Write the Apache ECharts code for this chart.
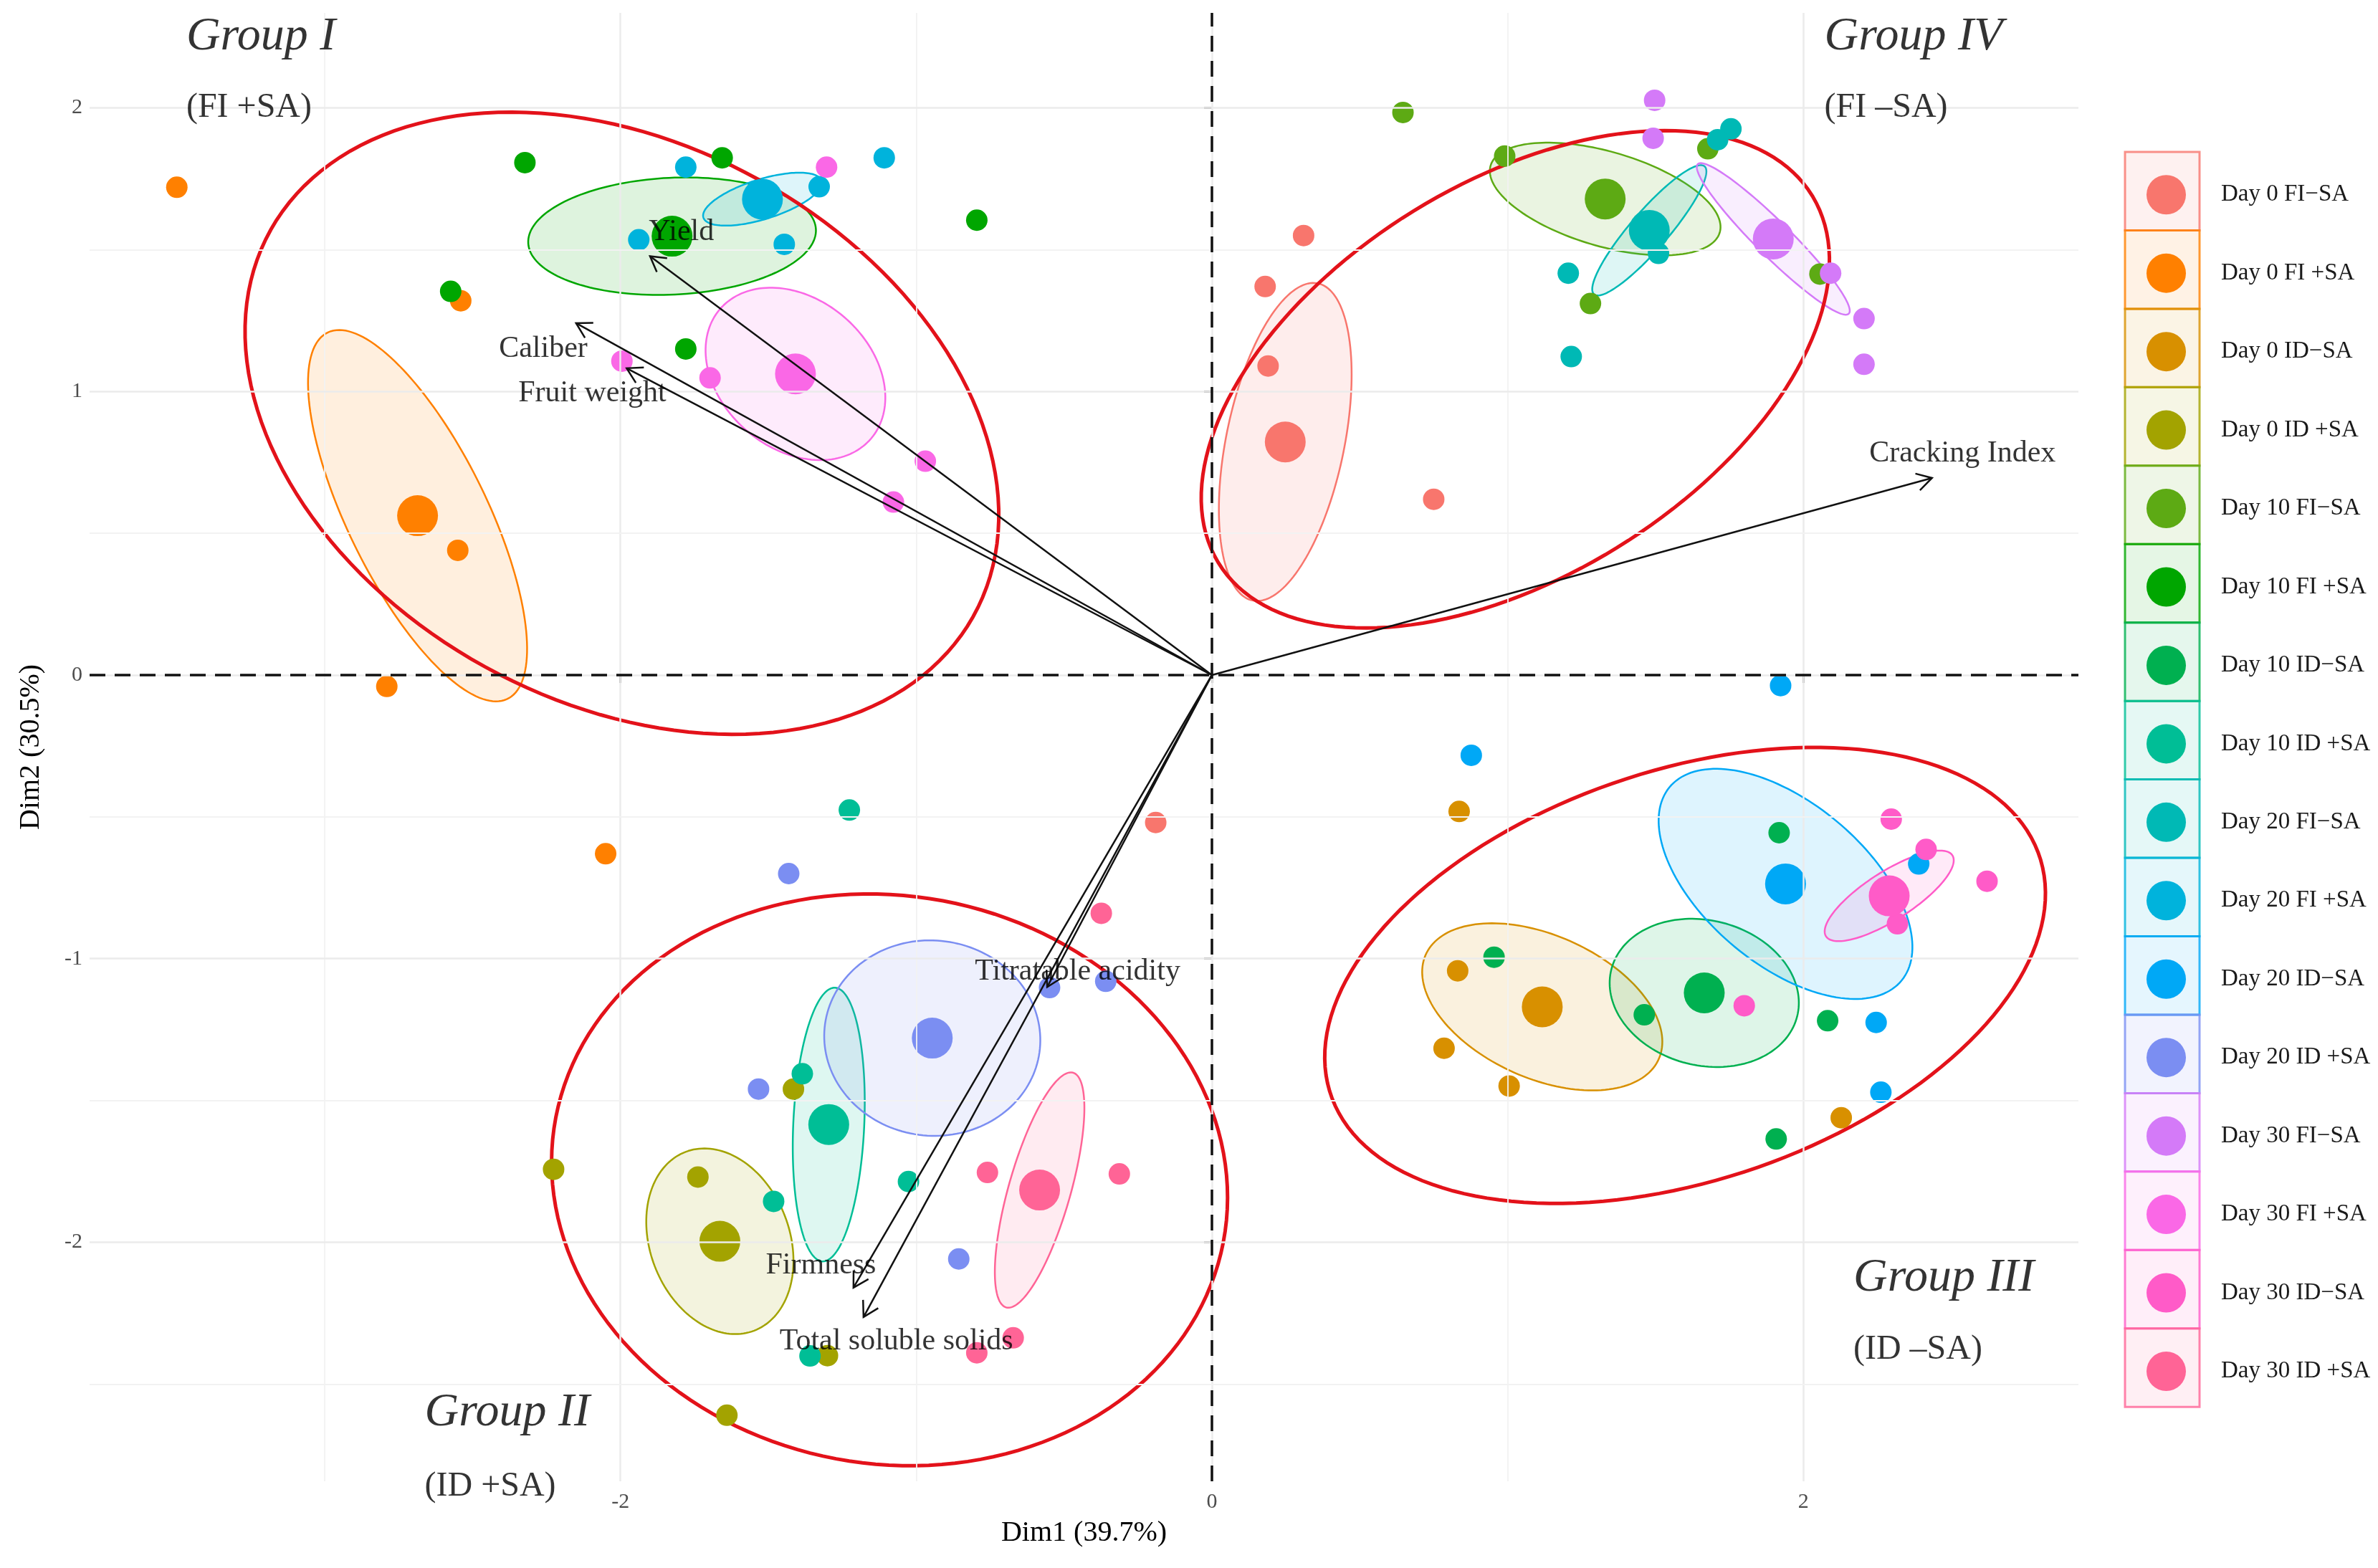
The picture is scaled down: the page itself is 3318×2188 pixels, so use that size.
<!DOCTYPE html>
<html>
<head>
<meta charset="utf-8">
<script src="https://cdn.jsdelivr.net/npm/echarts@6/dist/echarts.min.js"></script>
<style>
html,body{margin:0;padding:0;background:#fff;}
#chart{width:3318px;height:2188px;}
</style>
</head>
<body>
<div id="chart"></div>
<script>
// ---------- data ----------
const groupNames = ['Day 0 FI−SA','Day 0 FI +SA','Day 0 ID−SA','Day 0 ID +SA',
  'Day 10 FI−SA','Day 10 FI +SA','Day 10 ID−SA','Day 10 ID +SA',
  'Day 20 FI−SA','Day 20 FI +SA','Day 20 ID−SA','Day 20 ID +SA',
  'Day 30 FI−SA','Day 30 FI +SA','Day 30 ID−SA','Day 30 ID +SA'];
const groupColors = ['#F8766D','#FF8000','#D89000','#A3A300',
  '#5DAA14','#00A600','#00B050','#00BE96',
  '#00B9B5','#00B3DC','#00A8F6','#7B8EF2',
  '#D47AF8','#FA68E6','#FF5BC8','#FF6496'];

// individual scores (Dim1, Dim2)
const day0_FI_noSA  = [[0.31,1.55],[0.18,1.37],[0.19,1.09],[0.75,0.62],[-0.19,-0.52]];
const day0_FI_SA    = [[-3.50,1.72],[-2.54,1.32],[-2.55,0.44],[-2.79,-0.04],[-2.05,-0.63]];
const day0_ID_noSA  = [[0.836,-0.481],[0.831,-1.043],[0.785,-1.316],[1.005,-1.449],[2.128,-1.561]];
const day0_ID_SA    = [[-1.738,-1.77],[-2.226,-1.743],[-1.415,-1.46],[-1.30,-2.40],[-1.64,-2.61]];
const day10_FI_noSA = [[0.646,1.984],[0.99,1.83],[1.677,1.856],[1.28,1.31],[2.056,1.414]];
const day10_FI_SA   = [[-2.323,1.807],[-1.656,1.824],[-0.795,1.604],[-2.574,1.353],[-1.779,1.15]];
const day10_ID_noSA = [[1.918,-0.556],[0.954,-0.995],[1.462,-1.198],[2.082,-1.219],[1.908,-1.636]];
const day10_ID_SA   = [[-1.226,-0.476],[-1.385,-1.406],[-1.026,-1.786],[-1.482,-1.856],[-1.359,-2.401]];
const day20_FI_noSA = [[1.205,1.417],[1.215,1.123],[1.755,1.926],[1.71,1.888],[1.51,1.487]];
const day20_FI_SA   = [[-1.779,1.791],[-1.328,1.722],[-1.108,1.824],[-1.446,1.519],[-1.938,1.535]];
const day20_ID_noSA = [[1.923,-0.037],[0.877,-0.283],[2.246,-1.225],[2.262,-1.471],[2.39,-0.666]];
const day20_ID_SA   = [[-1.431,-0.70],[-1.533,-1.46],[-0.856,-2.059],[-0.549,-1.102],[-0.359,-1.08]];
const day30_FI_noSA = [[1.497,2.027],[1.492,1.893],[2.092,1.417],[2.205,1.257],[2.205,1.096]];
const day30_FI_SA   = [[-1.303,1.791],[-1.697,1.048],[-1.995,1.107],[-0.969,0.754],[-1.077,0.61]];
const day30_ID_noSA = [[2.297,-0.508],[2.415,-0.615],[2.621,-0.727],[2.318,-0.877],[1.8,-1.166]];
const day30_ID_SA   = [[-0.374,-0.84],[-0.759,-1.754],[-0.313,-1.759],[-0.672,-2.337],[-0.795,-2.39]];
const groupPoints = [day0_FI_noSA,day0_FI_SA,day0_ID_noSA,day0_ID_SA,
  day10_FI_noSA,day10_FI_SA,day10_ID_noSA,day10_ID_SA,
  day20_FI_noSA,day20_FI_SA,day20_ID_noSA,day20_ID_SA,
  day30_FI_noSA,day30_FI_SA,day30_ID_noSA,day30_ID_SA];

// per-group ellipses (semi-axes in Dim units, rotation in degrees)
const ellipseA   = [0.57,0.714,0.435,0.336,0.405,0.487,0.325,0.483,0.293,0.210,0.52,0.366,0.367,0.343,0.257,0.429];
const ellipseB   = [0.20,0.237,0.25,0.237,0.166,0.206,0.255,0.12,0.065,0.070,0.28,0.344,0.06,0.259,0.084,0.105];
const ellipseAng = [79,115,154,108.6,162.8,2.9,163.4,87.5,50.5,18.2,137.9,170,134,135,34,74.8];

// cluster ellipses
const clusterCx  = [-1.995,-1.09,1.60,1.026];
const clusterCy  = [0.888,-1.78,-1.059,1.043];
const clusterA   = [1.37,1.15,1.27,1.195];
const clusterB   = [0.975,1.0,0.72,0.685];
const clusterAng = [148.5,167,20,34];

// group annotations
const clusterLabels = ['Group I','Group II','Group III','Group IV'];
const clusterSubs   = ['(FI +SA)','(ID +SA)','(ID –SA)','(FI –SA)'];
const clusterLabelX = [-3.468,-2.662,2.169,2.071];
const clusterLabelY = [2.25,-2.603,-2.128,2.25];
const clusterSubY   = [2.0,-2.861,-2.378,2.0];

// variable loadings (arrows)
const varNames  = ['Yield','Caliber','Fruit weight','Cracking Index','Titratable acidity','Firmness','Total soluble solids'];
const varX      = [-1.90,-2.15,-1.979,2.435,-0.557,-1.212,-1.178];
const varY      = [1.477,1.241,1.082,0.695,-1.10,-2.16,-2.264];
const varLabelX = [-1.794,-2.261,-2.095,2.538,-0.454,-1.322,-1.067];
const varLabelY = [1.562,1.15,0.992,0.781,-1.045,-2.082,-2.35];

// axes
const xTicks = [-2,0,2];
const yTicks = [-2,-1,0,1,2];
const xMinorGrid = [-3,-1,1];
const yMinorGrid = [-2.5,-1.5,-0.5,0.5,1.5];
const xName = 'Dim1 (39.7%)';
const yName = 'Dim2 (30.5%)';

// ---------- helpers ----------
function rgba(hex, a){
  const n = parseInt(hex.slice(1),16);
  return 'rgba(' + ((n>>16)&255) + ',' + ((n>>8)&255) + ',' + (n&255) + ',' + a + ')';
}
function mean(arr, k){ return arr.reduce((s,p)=>s+p[k],0)/arr.length; }
function ellipseRenderer(fill, stroke, lw){
  return function(params, api){
    const cx = api.value(0), cy = api.value(1), a = api.value(2), b = api.value(3);
    const ang = api.value(4)*Math.PI/180;
    const pts = [];
    for (let i=0;i<160;i++){
      const t = i/160*2*Math.PI;
      const ex = a*Math.cos(t), ey = b*Math.sin(t);
      pts.push(api.coord([cx + ex*Math.cos(ang) - ey*Math.sin(ang), cy + ex*Math.sin(ang) + ey*Math.cos(ang)]));
    }
    return {type:'polygon', shape:{points:pts}, style:{fill:fill, stroke:stroke, lineWidth:lw}};
  };
}

const FONT = 'Liberation Serif';
const series = [];

// grid lines
series.push({
  type:'scatter', name:'_grid', data:[], z:1, silent:true,
  markLine:{
    silent:true, symbol:['none','none'], label:{show:false}, animation:false,
    data:[
      ...xTicks.map(v=>({xAxis:v, lineStyle:{color:'#EBEBEB', width:2.5, type:'solid'}})),
      ...xMinorGrid.map(v=>({xAxis:v, lineStyle:{color:'#F2F2F2', width:1.8, type:'solid'}})),
      ...yTicks.map(v=>({yAxis:v, lineStyle:{color:'#EBEBEB', width:2.5, type:'solid'}})),
      ...yMinorGrid.map(v=>({yAxis:v, lineStyle:{color:'#F2F2F2', width:1.8, type:'solid'}}))
    ]
  }
});
// dashed zero lines
series.push({
  type:'scatter', name:'_zero', data:[], z:3, silent:true,
  markLine:{
    silent:true, symbol:['none','none'], label:{show:false}, animation:false,
    lineStyle:{color:'#111', width:3.5, type:[22,13]},
    data:[{xAxis:0},{yAxis:0}]
  }
});

// group ellipses
groupNames.forEach((g,i)=>{
  const cx = mean(groupPoints[i],0), cy = mean(groupPoints[i],1);
  series.push({
    type:'custom', name:g+' ellipse', z:2, silent:true,
    renderItem: ellipseRenderer(rgba(groupColors[i],0.13), groupColors[i], 2.5),
    encode:{x:0,y:1},
    data:[[cx,cy,ellipseA[i],ellipseB[i],ellipseAng[i]]]
  });
});
// cluster ellipses
series.push({
  type:'custom', name:'clusters', z:3, silent:true,
  renderItem: ellipseRenderer('none', '#E3121A', 5),
  encode:{x:0,y:1},
  data: clusterCx.map((c,i)=>[c, clusterCy[i], clusterA[i], clusterB[i], clusterAng[i]])
});

// points + centroids
groupNames.forEach((g,i)=>{
  const pts = groupPoints[i].map(p=>({value:p, symbolSize:30}));
  pts.push({value:[mean(groupPoints[i],0), mean(groupPoints[i],1)], symbolSize:57});
  series.push({
    type:'scatter', name:g, z:4, symbol:'circle',
    itemStyle:{color:groupColors[i], opacity:1},
    data:pts
  });
});

// arrows
series.push({
  type:'custom', name:'arrows', z:5, silent:true,
  encode:{x:0,y:1},
  data: varX.map((x,i)=>[x,varY[i]]),
  renderItem:function(params, api){
    const o = api.coord([0,0]);
    const p = api.coord([api.value(0), api.value(1)]);
    const ang = Math.atan2(p[1]-o[1], p[0]-o[0]);
    const L = 24, sp = Math.PI/6;
    const h1 = [p[0]-L*Math.cos(ang-sp), p[1]-L*Math.sin(ang-sp)];
    const h2 = [p[0]-L*Math.cos(ang+sp), p[1]-L*Math.sin(ang+sp)];
    return {type:'group', children:[
      {type:'line', shape:{x1:o[0],y1:o[1],x2:p[0],y2:p[1]}, style:{stroke:'#111', lineWidth:2.5}},
      {type:'polyline', shape:{points:[h1,p,h2]}, style:{stroke:'#111', lineWidth:2.5, fill:null}}
    ]};
  }
});
// variable labels
series.push({
  type:'scatter', name:'_varlabels', z:6, silent:true, symbolSize:0, clip:false,
  data: varNames.map((n,i)=>({value:[varLabelX[i],varLabelY[i]], name:n})),
  label:{show:true, position:'inside', formatter:'{b}', color:'#000', fontSize:42, fontFamily:FONT}
});
// cluster annotations
const annot = [];
clusterLabels.forEach((t,i)=>{
  annot.push({value:[clusterLabelX[i],clusterLabelY[i]], name:t,
    label:{fontSize:66, fontStyle:'italic'}});
  annot.push({value:[clusterLabelX[i],clusterSubY[i]], name:clusterSubs[i],
    label:{fontSize:48, fontStyle:'normal'}});
});
series.push({
  type:'scatter', name:'_annot', z:6, silent:true, symbolSize:0, clip:false,
  data: annot,
  label:{show:true, position:'right', distance:0, formatter:'{b}', color:'#000', fontFamily:FONT}
});

const legendTop = 212, legendStep = 109.45;
const graphic = groupNames.map((g,i)=>({
  type:'rect', z:0, silent:true,
  shape:{x:2965, y:legendTop + i*legendStep, width:104, height:legendStep},
  style:{fill:rgba(groupColors[i],0.1), stroke:rgba(groupColors[i],0.8), lineWidth:3}
}));

const option = {
  animation:false,
  backgroundColor:'#ffffff',
  textStyle:{fontFamily:FONT},
  grid:{left:125, top:18, width:2775, height:2049, containLabel:false},
  xAxis:{
    type:'value', min:-3.795, max:2.93,
    name:xName, nameLocation:'middle', nameGap:52,
    nameTextStyle:{fontSize:40, color:'#000', fontFamily:FONT},
    axisLine:{show:false},
    splitLine:{show:false},
    axisTick:{show:true, customValues:xTicks, length:11, lineStyle:{color:'#333', width:2.5}},
    axisLabel:{show:true, customValues:xTicks, fontSize:30, color:'#4D4D4D', margin:14, fontFamily:FONT}
  },
  yAxis:{
    type:'value', min:-2.843, max:2.335,
    name:yName, nameLocation:'middle', nameGap:62,
    nameTextStyle:{fontSize:40, color:'#000', fontFamily:FONT},
    axisLine:{show:false},
    splitLine:{show:false},
    axisTick:{show:true, customValues:yTicks, length:11, lineStyle:{color:'#333', width:2.5}},
    axisLabel:{show:true, customValues:yTicks, fontSize:30, color:'#4D4D4D', margin:10, fontFamily:FONT}
  },
  legend:{
    orient:'vertical', left:2990, top:legendTop + (legendStep-55)/2,
    itemWidth:55, itemHeight:55, itemGap:legendStep-55,
    selectedMode:false,
    data: groupNames.map(n=>({name:n, icon:'circle'})),
    textStyle:{fontSize:33, color:'#1a1a1a', fontFamily:FONT, padding:[0,0,0,44]}
  },
  graphic: graphic,
  series: series
};

const chart = echarts.init(document.getElementById('chart'), null, {renderer:'canvas'});
chart.setOption(option);
</script>
</body>
</html>
